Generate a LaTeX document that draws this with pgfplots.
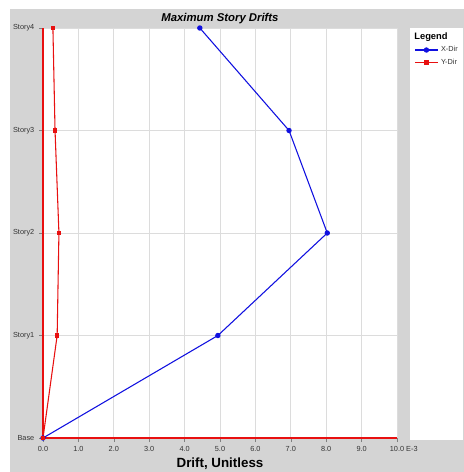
\documentclass[border=0pt]{standalone}
\usepackage{fontspec}
\setmainfont{Liberation Sans}
\usepackage{pgfplots}
\pgfplotsset{compat=1.18}
\definecolor{bggray}{HTML}{D4D4D4}
\definecolor{gridgray}{HTML}{DCDCDC}
\definecolor{txtgray}{HTML}{333333}
\definecolor{xblue}{HTML}{1010E0}
\definecolor{yred}{HTML}{E81010}
\begin{document}
\begin{tikzpicture}
\useasboundingbox (0,0) rectangle (348pt,354pt);
\fill[white] (0,0) rectangle (348pt,354pt);
\fill[bggray] (7.5pt,0) rectangle (348pt,347.25pt);
\fill[white] (307.5pt,24pt) rectangle (347.25pt,333pt);
\node[font=\fontsize{8.5}{10}\selectfont\bfseries\itshape] at (165pt,340pt) {Maximum Story Drifts};
\node[font=\fontsize{10}{12}\selectfont\bfseries] at (165pt,6pt) {Drift, Unitless};
\begin{axis}[
  at={(32.25pt,25.5pt)}, anchor=origin,
  scale only axis, width=265.5pt, height=307.5pt,
  xmin=0, xmax=10, ymin=0, ymax=4,
  axis x line=bottom, axis y line=left,
  x axis line style={draw=yred, line width=0.8pt, -},
  y axis line style={draw=yred, line width=0.8pt, -},
  axis background/.style={fill=white},
  xtick={0,1,...,10},
  xticklabels={0.0,1.0,2.0,3.0,4.0,5.0,6.0,7.0,8.0,9.0,{10.0\rlap{ E-3}}},
  ytick={0,1,2,3,4},
  yticklabels={Base,Story1,Story2,Story3,Story4},
  xtick align=outside, ytick align=outside,
  major tick length=3pt,
  every tick/.style={draw=gray, line width=0.4pt},
  ticklabel style={font=\fontsize{5.5}{6.5}\selectfont, text=txtgray},
  /pgf/number format/assume math mode=true,
  xmajorgrids, ymajorgrids,
  major grid style={draw=gridgray, line width=0.5pt},
  clip=false,
  legend style={at={(1.045,1.0)}, anchor=north west, draw=none, fill=none,
    font=\fontsize{5.5}{6.5}\selectfont, text=txtgray, row sep=0pt, inner sep=1pt},
  legend cell align=left,
]
\addlegendimage{empty legend}
\addlegendentry{\hspace{-20pt}\fontsize{7}{8}\selectfont\bfseries\color{black}Legend}
\addplot[xblue, line width=0.8pt, mark=*, mark size=1.6pt, mark options={fill=xblue}]
  coordinates {(0,0) (4.94,1) (8.03,2) (6.95,3) (4.43,4)};
\addlegendentry{X-Dir}
\addplot[yred, line width=0.8pt, mark=square*, mark size=1.3pt, mark options={fill=yred}]
  coordinates {(0,0) (0.40,1) (0.45,2) (0.34,3) (0.28,4)};
\addlegendentry{Y-Dir}
\end{axis}
\end{tikzpicture}
\end{document}
